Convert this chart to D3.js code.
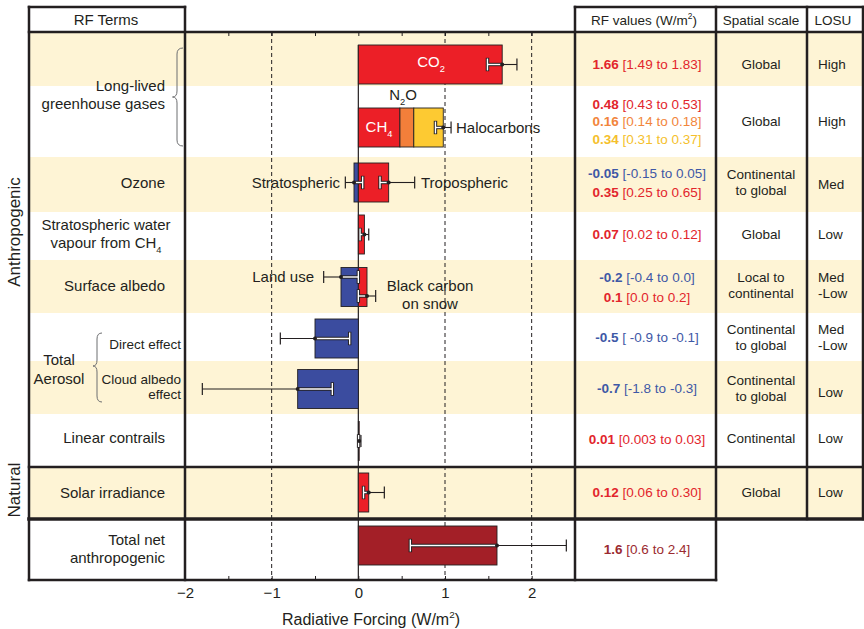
<!DOCTYPE html>
<html><head><meta charset="utf-8">
<script src="https://cdn.jsdelivr.net/npm/d3@7"></script>
<style>body{margin:0;background:#fff} svg{display:block} text{font-family:"Liberation Sans",Arial,Helvetica,sans-serif}</style>
</head><body><svg id="c" width="864" height="629"></svg>
<script>
// ================= DATA =================
const barTerms = ["CO2","CH4","N2O","Halocarbons","Stratospheric ozone","Tropospheric ozone","Stratospheric water vapour","Land use","Black carbon on snow","Aerosol direct effect","Aerosol cloud albedo effect","Linear contrails","Solar irradiance","Total net anthropogenic"];
const barRow   = [0,1,1,1,2,2,3,4,4,5,6,7,8,9];
const barValue = [1.66,0.48,0.16,0.34,-0.05,0.35,0.07,-0.2,0.1,-0.5,-0.7,0.01,0.12,1.6];

// error bars (best estimate with 90% range)
const errRow   = [0,1,2,2,3,4,4,5,6,7,8,9];
const errValue = [1.66,0.98,-0.05,0.35,0.07,-0.2,0.1,-0.5,-0.7,0.01,0.12,1.6];
const errLow   = [1.49,0.89,-0.15,0.25,0.02,-0.4,0.0,-0.9,-1.8,0.003,0.06,0.6];
const errHigh  = [1.83,1.07,0.05,0.65,0.12,0.0,0.2,-0.1,-0.3,0.03,0.30,2.4];

// table texts
const tableValueText = ["1.66","0.48","0.16","0.34","-0.05","0.35","0.07","-0.2","0.1","-0.5","-0.7","0.01","0.12","1.6"];
const tableRangeText = ["[1.49 to 1.83]","[0.43 to 0.53]","[0.14 to 0.18]","[0.31 to 0.37]","[-0.15 to 0.05]","[0.25 to 0.65]","[0.02 to 0.12]","[-0.4 to 0.0]","[0.0 to 0.2]","[ -0.9 to -0.1]","[-1.8 to -0.3]","[0.003 to 0.03]","[0.06 to 0.30]","[0.6 to 2.4]"];
const spatialText = [["Global"],["Global"],["Continental","to global"],["Global"],["Local to","continental"],["Continental","to global"],["Continental","to global"],["Continental"],["Global"]];
const losuText = [["High"],["High"],["Med"],["Low"],["Med","-Low"],["Med","-Low"],["Low"],["Low"],["Low"]];
const headerText = ["RF Terms","RF values (W/m^2)","Spatial scale","LOSU"];
const termLabelLines = [["Long-lived","greenhouse gases"],["Ozone"],["Stratospheric water","vapour from CH_4"],["Surface albedo"],["Total","Aerosol"],["Direct effect"],["Cloud albedo","effect"],["Linear contrails"],["Solar irradiance"],["Total net","anthropogenic"]];
const annText = ["CO_2","N_2O","CH_4","Halocarbons","Stratospheric","Tropospheric","Land use","Black carbon","on snow"];
const groupText = ["Anthropogenic","Natural"];
const majorTicks = [-2,-1,0,1,2];
const tickLabels = ["\u22122","\u22121","0","1","2"];
const minorTicks = [-1.5,-1,-0.5,0,0.5,1,1.5,2];
const gridTicks = [-1,1,2];
const axisTitle = "Radiative Forcing (W/m^2)";

// ================= LAYOUT / STYLE =================
const W = 864, H = 629;
const rowBounds = [32,86,157,212,260,313,361,414,467,519,580];
const rowCenters = [64.5,127.5,182.5,234.5,287,338.5,389,441,492.5,545.5];
const barH = 39;
const errDy = [0,0,0,0,0,-10,9,0,0,0,0,0];
const tableLineY = [64.5,104.5,121.5,139,173,192.5,234.5,277,297.5,337.5,388,439,492.5,549];
const spatialY = [64,121,182,234,285,337,388,438,492];
const losuY = [64,121,184,234,285,337,392,438,492];
const cream = "#fef4d5";
const C = {red:"#ec1f27", orange:"#f37f3a", yellow:"#fdca32", blue:"#3b4c9f", total:"#a31f27"};
const TC = {red:"#e2252c", orange:"#f2853b", yellow:"#f5bf2c", blue:"#3e58a6", total:"#9b2a30"};
function kindOf(i){
  const t = barTerms[i];
  if (t==="N2O") return "orange";
  if (t==="Halocarbons") return "yellow";
  if (t==="Total net anthropogenic") return "total";
  return barValue[i] < 0 ? "blue" : "red";
}

const svg = d3.select("#c");
const x = d3.scaleLinear().domain([-2,2.5]).range([185,575]);
const rowY = d3.scaleOrdinal().domain(d3.range(10)).range(rowCenters);

function rich(sel, str, fs){
  const parts=[]; let buf=""; let i=0;
  while(i<str.length){
    const c=str[i];
    if((c==="_"||c==="^") && i+1<str.length){
      if(buf) parts.push({t:buf,s:0}); buf="";
      parts.push({t:str[i+1], s: c==="_"?1:-1}); i+=2;
    } else { buf+=c; i++; }
  }
  if(buf) parts.push({t:buf,s:0});
  let cur=0;
  parts.forEach(p=>{
    const target = p.s===1 ? fs*0.3 : (p.s===-1 ? -fs*0.4 : 0);
    const ts = sel.append("tspan").attr("dy", target-cur).text(p.t);
    if(p.s) ts.attr("font-size", fs*0.62);
    cur = target;
  });
}
function label(g, str, px, cy, fs, anchor, fill, weight){
  const t = g.append("text").attr("x",px).attr("y",cy+fs*0.35)
    .attr("font-size",fs).attr("text-anchor",anchor||"middle")
    .attr("fill",fill||"#231f20");
  if(weight) t.attr("font-weight",weight);
  rich(t,str,fs);
  return t;
}

// ---- background shading ----
const bg = svg.append("g");
d3.range(10).forEach(r=>{
  if(r%2===0 && r<9){
    bg.append("rect").attr("x",29).attr("y",rowBounds[r]).attr("width",863-29)
      .attr("height",rowBounds[r+1]-rowBounds[r]).attr("fill",cream);
  }
});

// ---- grid ----
const grid = svg.append("g");
grid.selectAll("line").data(gridTicks).join("line")
  .attr("x1",d=>x(d)).attr("x2",d=>x(d)).attr("y1",32).attr("y2",580)
  .attr("stroke","#231f20").attr("stroke-width",1).attr("stroke-dasharray","4,3");
grid.append("line").attr("x1",x(0)).attr("x2",x(0)).attr("y1",rowCenters[0]-barH/2).attr("y2",580)
  .attr("stroke","#231f20").attr("stroke-width",1.2);

// ---- bars (stacked within a row for positive values) ----
const cum = {};
const bars = barValue.map((v,i)=>{
  const r = barRow[i];
  let s=0,e=v;
  if(v>=0){ s = cum[r]||0; e = s+v; cum[r]=e; }
  return {i, r, s, e};
});
svg.append("g").selectAll("rect").data(bars).join("rect")
  .attr("x",d=>x(Math.min(d.s,d.e))).attr("width",d=>Math.abs(x(d.e)-x(d.s)))
  .attr("y",d=>rowY(d.r)-barH/2).attr("height",barH)
  .attr("fill",d=>C[kindOf(d.i)]).attr("stroke","#231f20").attr("stroke-width",0.9);

// ---- error bars ----
const eg = svg.append("g");
errValue.forEach((v,i)=>{
  const y = rowY(errRow[i]) + errDy[i];
  const whiteEnd = v>=0 ? errLow[i] : errHigh[i];
  const blackEnd = v>=0 ? errHigh[i] : errLow[i];
  const capH = 12;
  // white segment with dark outline
  [[3.4,"#231f20"],[1.4,"#ffffff"]].forEach(([w,col])=>{
    eg.append("line").attr("x1",x(v)).attr("x2",x(whiteEnd)).attr("y1",y).attr("y2",y)
      .attr("stroke",col).attr("stroke-width",w);
    eg.append("line").attr("x1",x(whiteEnd)).attr("x2",x(whiteEnd)).attr("y1",y-capH/2-(w>2?0.7:0)).attr("y2",y+capH/2+(w>2?0.7:0))
      .attr("stroke",col).attr("stroke-width",w);
  });
  // black segment
  eg.append("line").attr("x1",x(v)).attr("x2",x(blackEnd)).attr("y1",y).attr("y2",y)
    .attr("stroke","#231f20").attr("stroke-width",1.1);
  eg.append("line").attr("x1",x(blackEnd)).attr("x2",x(blackEnd)).attr("y1",y-capH/2).attr("y2",y+capH/2)
    .attr("stroke","#231f20").attr("stroke-width",1.2);
  eg.append("circle").attr("cx",x(v)).attr("cy",y).attr("r",2).attr("fill","#231f20");
});

// ---- annotations inside plot ----
const ann = svg.append("g");
const annPos = [
  {x:431,y:62,a:"middle",f:"#fff"},
  {x:403,y:95,a:"middle"},
  {x:379,y:127,a:"middle",f:"#fff"},
  {x:456,y:128,a:"start"},
  {x:340,y:183,a:"end"},
  {x:421,y:183,a:"start"},
  {x:314,y:277,a:"end"},
  {x:430,y:286,a:"middle"},
  {x:430,y:304,a:"middle"}
];
annText.forEach((t,i)=>label(ann,t,annPos[i].x,annPos[i].y,15,annPos[i].a,annPos[i].f));

// ---- axes ----
const axTop = svg.append("g").attr("transform","translate(0,32)")
  .call(d3.axisTop(x).tickValues(minorTicks).tickSize(-4).tickFormat(""));
const axBot = svg.append("g").attr("transform","translate(0,580)")
  .call(d3.axisBottom(x).tickValues(minorTicks).tickSize(-4).tickFormat(""));
const axLab = svg.append("g").attr("transform","translate(0,580)")
  .call(d3.axisBottom(x).tickValues(majorTicks).tickSize(0).tickPadding(7).tickFormat((d,i)=>tickLabels[i]));
[axTop,axBot,axLab].forEach(a=>{
  a.select(".domain").remove();
  a.selectAll("line").attr("stroke","#231f20").attr("stroke-width",1);
});
axLab.selectAll("text").attr("font-size",15).attr("fill","#231f20")
  .style("font-family",'"Liberation Sans",Arial,sans-serif');
label(svg, axisTitle, 371, 619, 16, "middle");

// ---- RF terms labels ----
const tl = svg.append("g");
const termLabelPos = [
  {x:165,y:[86,104],a:"end",fs:15},
  {x:165,y:[183],a:"end",fs:15},
  {x:106,y:[225,243],a:"middle",fs:15},
  {x:165,y:[286],a:"end",fs:15},
  {x:59,y:[360,379],a:"middle",fs:15},
  {x:181,y:[344],a:"end",fs:13.5},
  {x:181,y:[379,394],a:"end",fs:13.5},
  {x:165,y:[438],a:"end",fs:15},
  {x:165,y:[493],a:"end",fs:15},
  {x:165,y:[540,558],a:"end",fs:15}
];
termLabelLines.forEach((lines,i)=>{
  const p = termLabelPos[i];
  lines.forEach((s,j)=>label(tl,s,p.x,p.y[j],p.fs,p.a));
});
// braces
const braceCol = "#6d6e71";
function brace(xr, xm, xt, y0, ym, y1){
  const r=6;
  const p = `M${xr},${y0} Q${xm},${y0} ${xm},${y0+r} L${xm},${ym-r} Q${xm},${ym} ${xt},${ym} Q${xm},${ym} ${xm},${ym+r} L${xm},${y1-r} Q${xm},${y1} ${xr},${y1}`;
  tl.append("path").attr("d",p).attr("fill","none").attr("stroke",braceCol).attr("stroke-width",1);
}
brace(183,177,172.5,48,97,146);
brace(102,97,93,333,366,402);

// group labels (rotated)
[[groupText[0],14,232],[groupText[1],14,490]].forEach(([t,cx,cy])=>{
  svg.append("text").attr("transform",`translate(${cx+6},${cy}) rotate(-90)`)
    .attr("text-anchor","middle").attr("font-size",17).attr("fill","#231f20").text(t);
});

// ---- table ----
const tb = svg.append("g");
tableValueText.forEach((v,i)=>{
  const k = kindOf(i);
  const t = tb.append("text").attr("x",647).attr("y",tableLineY[i]+13.5*0.35)
    .attr("text-anchor","middle").attr("font-size",13.5).attr("fill",TC[k]);
  t.append("tspan").attr("font-weight","bold").text(v+" ");
  t.append("tspan").text(tableRangeText[i]);
});
spatialText.forEach((lines,r)=>{
  const n=lines.length;
  lines.forEach((s,j)=>label(tb,s,761,spatialY[r]+(j-(n-1)/2)*16,13.5,"middle"));
});
losuText.forEach((lines,r)=>{
  const n=lines.length;
  lines.forEach((s,j)=>label(tb,s,818,losuY[r]+(j-(n-1)/2)*16,13.5,"start"));
});
// headers
const hx = [106,644,761,833];
headerText.forEach((s,i)=>label(tb,s,hx[i],20,i===0?15:13.5,"middle"));

// ---- borders ----
const bd = svg.append("g").attr("stroke","#231f20").attr("fill","none").attr("stroke-linecap","square");
function L(x1,y1,x2,y2,w){ bd.append("line").attr("x1",x1).attr("y1",y1).attr("x2",x2).attr("y2",y2).attr("stroke-width",w); }
L(29,7,185,7,2.5);
L(575,7,863,7,2.5);
L(29,32,863,32,2.5);
L(29,467,863,467,2.5);
L(29,519,863,519,3.6);
L(29,580,716,580,2.5);
L(29,7,29,580,2.5);
L(185,7,185,580,2.5);
L(575,7,575,580,2.5);
L(716,7,716,580,2.5);
L(807,7,807,519,2.5);
L(863,7,863,519,2.5);
</script>
</body></html>
